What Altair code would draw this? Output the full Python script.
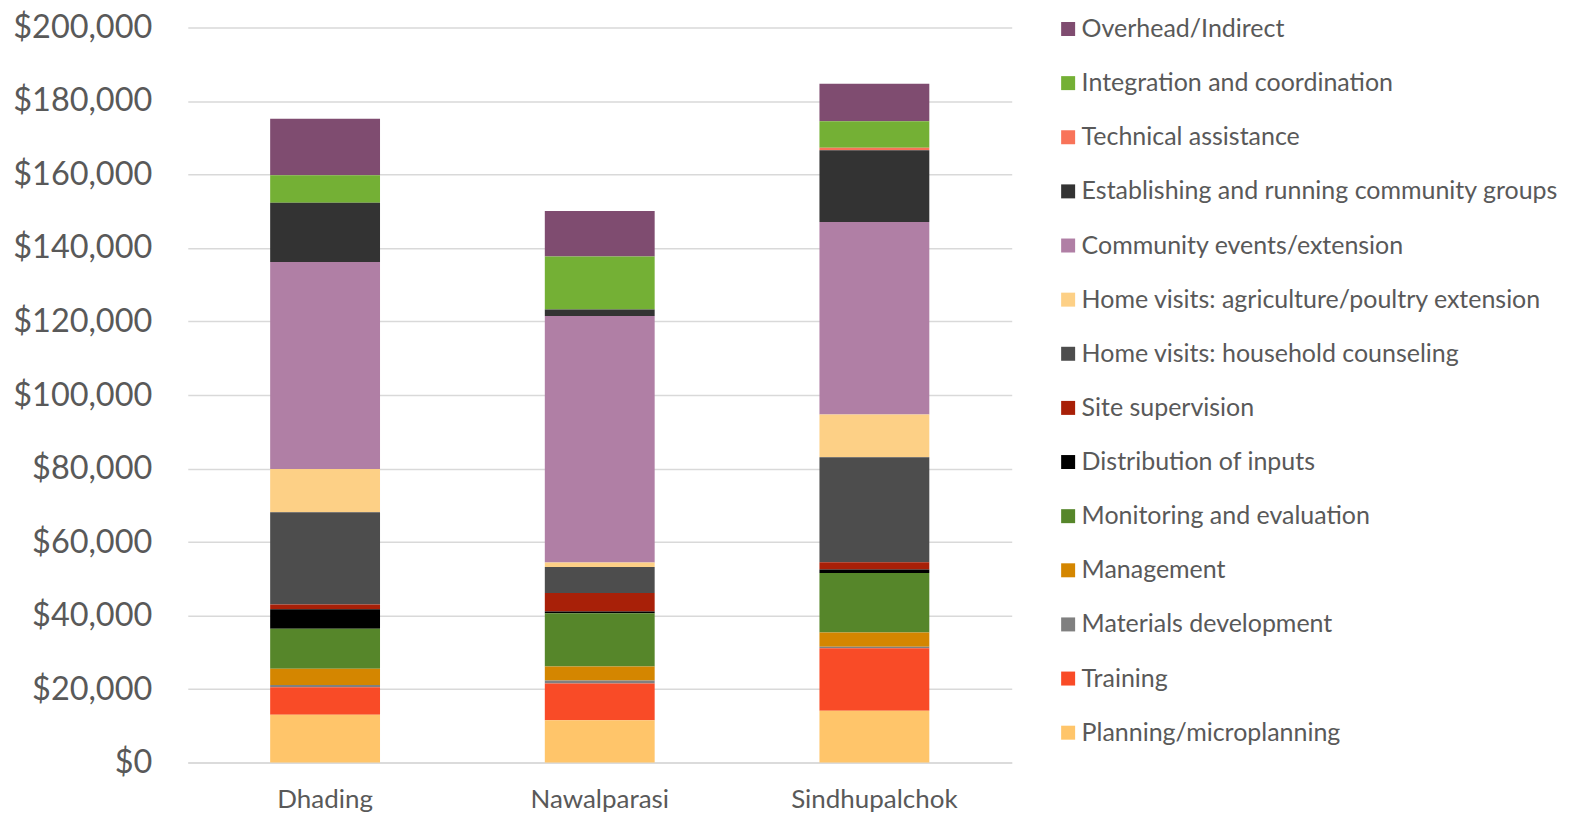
import altair as alt
import pandas as pd

districts = ["Dhading", "Nawalparasi", "Sindhupalchok"]

# legend order (top to bottom)
categories = [
    "Overhead/Indirect",
    "Integration and coordination",
    "Technical assistance",
    "Establishing and running community groups",
    "Community events/extension",
    "Home visits: agriculture/poultry extension",
    "Home visits: household counseling",
    "Site supervision",
    "Distribution of inputs",
    "Monitoring and evaluation",
    "Management",
    "Materials development",
    "Training",
    "Planning/microplanning",
]

colors = [
    "#7F4C70", "#74B035", "#F87359", "#333333", "#B07FA5", "#FDD086",
    "#4D4D4D", "#A82008", "#000000", "#56862A", "#D48600", "#808080",
    "#F94B27", "#FFC56A",
]

# values in US$ per district, same order as categories
dhading = [15400, 7500, 0, 16100, 56300, 11800, 25100, 1300, 5300, 10900, 4400, 600, 7500, 13000]
nawalparasi = [12400, 14400, 0, 1800, 67100, 1200, 7100, 5000, 500, 14500, 3800, 800, 10000, 11500]
sindhupalchok = [10200, 7200, 700, 19500, 52400, 11600, 28600, 2000, 900, 16200, 3900, 400, 17000, 14100]

series = {"Dhading": dhading, "Nawalparasi": nawalparasi, "Sindhupalchok": sindhupalchok}

rows = []
n = len(categories)
for d in districts:
    for i, c in enumerate(categories):
        rows.append({"District": d, "Category": c, "Value": series[d][i], "order": n - i})
df = pd.DataFrame(rows)

FONT = "Lato"
GREY = "#595959"

chart = alt.Chart(df).mark_bar().encode(
    x=alt.X("District:N", sort=districts, title=None,
            scale=alt.Scale(paddingInner=0.6, paddingOuter=0.3),
            axis=alt.Axis(labelAngle=0, labelFontSize=26, labelColor=GREY, labelFont=FONT,
                          ticks=False, domainColor="#D9D9D9", domainWidth=1.5, labelPadding=24)),
    y=alt.Y("Value:Q", stack="zero", title=None,
            scale=alt.Scale(domain=[0, 200000], nice=False),
            axis=alt.Axis(values=list(range(0, 200001, 20000)), format="$,.0f",
                          labelFontSize=32.5, labelColor=GREY, labelFont=FONT,
                          ticks=False, domain=False, gridColor="#D9D9D9", gridWidth=1.5,
                          labelPadding=36)),
    color=alt.Color("Category:N", title=None,
                    scale=alt.Scale(domain=categories, range=colors),
                    legend=alt.Legend(orient="none", legendX=869, legendY=-11,
                                      symbolType="square", symbolSize=196,
                                      symbolStrokeWidth=0,
                                      labelFontSize=25, labelColor=GREY, labelFont=FONT,
                                      labelLimit=700, rowPadding=28.2, labelOffset=1)),
    order=alt.Order("order:Q", sort="ascending"),
).properties(
    width=825, height=736,
    autosize=alt.AutoSizeParams(type="none"),
    padding={"left": 180, "top": 19, "right": 550, "bottom": 52},
).configure_view(stroke=None)

chart.save("out.html", embed_options={"renderer": "svg", "actions": False})
